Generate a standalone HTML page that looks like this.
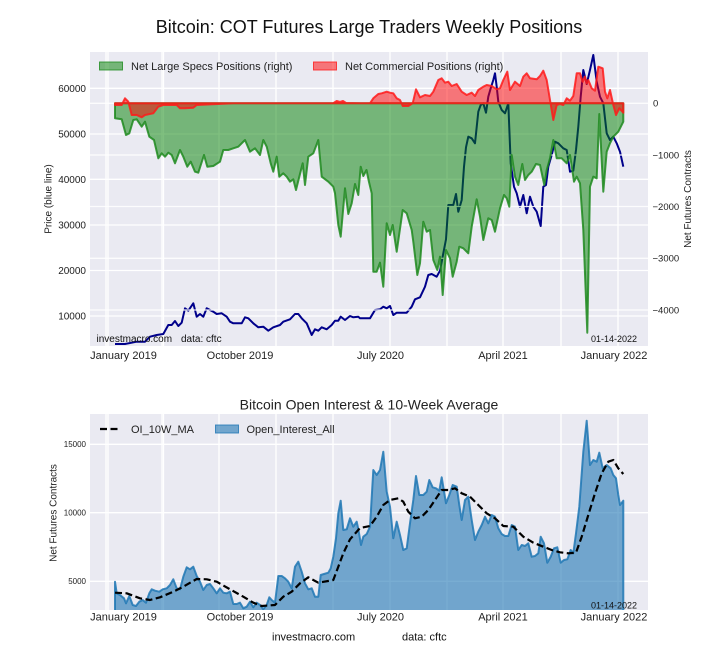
<!DOCTYPE html>
<html><head><meta charset="utf-8"><style>
html,body{margin:0;padding:0;background:#fff;}
svg{display:block;font-family:"Liberation Sans",Arial,sans-serif;}
</style></head><body>
<svg width="720" height="660" viewBox="0 0 720 660" xmlns="http://www.w3.org/2000/svg">
<defs>
<clipPath id="c1"><rect x="90" y="52" width="558" height="294"/></clipPath>
<clipPath id="c2"><rect x="90" y="414" width="558" height="196"/></clipPath>
</defs>
<rect width="720" height="660" fill="#fff"/>
<text x="369" y="33" font-size="18" text-anchor="middle" fill="#111">Bitcoin: COT Futures Large Traders Weekly Positions</text>

<!-- TOP CHART -->
<rect x="90" y="52" width="558" height="294" fill="#eaeaf2"/>
<g stroke="#fff" stroke-width="1.3">
<line x1="106" y1="52" x2="106" y2="346"/><line x1="108" y1="52" x2="108" y2="346"/>
<line x1="162" y1="52" x2="162" y2="346"/><line x1="163.5" y1="52" x2="163.5" y2="346"/>
<line x1="219" y1="52" x2="219" y2="346"/><line x1="276" y1="52" x2="276" y2="346"/>
<line x1="333" y1="52" x2="333" y2="346"/><line x1="390" y1="52" x2="390" y2="346"/>
<line x1="447" y1="52" x2="447" y2="346"/><line x1="503" y1="52" x2="503" y2="346"/>
<line x1="561" y1="52" x2="561" y2="346"/><line x1="618" y1="52" x2="618" y2="346"/>
<line x1="90" y1="88.3" x2="648" y2="88.3"/><line x1="90" y1="134" x2="648" y2="134"/>
<line x1="90" y1="179.3" x2="648" y2="179.3"/><line x1="90" y1="225" x2="648" y2="225"/>
<line x1="90" y1="270.5" x2="648" y2="270.5"/><line x1="90" y1="316" x2="648" y2="316"/>
</g>
<g clip-path="url(#c1)">
<polyline fill="none" stroke="#00008b" stroke-width="2" stroke-linejoin="round" points="115,344 125,344 136.7,341.7 145,341.7 150,336.7 156.7,335 163.3,334 168.3,325 171.7,325 175,321 178.3,326 181.7,322.7 185,308.3 188.3,310.7 193.3,303.3 196.7,316.7 200,314 203.3,316.7 206.7,308.3 213.3,311.7 216.7,314 221.7,313.3 226.7,316.7 230,321.7 233.3,323.3 241.7,323.3 245,317.3 248.3,318.3 253.3,323.3 258.3,327.3 263.3,326.7 268.3,330.7 273.3,327.3 280,325 283.3,321.7 290,319.3 295,314 298.3,314 301.7,318.3 306.7,323.3 311.7,335 315,329.3 318.3,330.7 321.7,327.3 326.7,329.3 331.7,325 335,320.7 338.3,320.7 340.7,316.7 345,320 350,316 353.3,317.3 358.3,316.7 360,318.3 370,318.3 375,310 380,309.3 383.3,306.7 386.7,308.3 390,306 393.3,315 396.7,312.7 406.7,312.7 411.7,306.7 415,299.3 420,297.3 425,286.7 428.3,275 431.7,274 436.7,276.7 440,270.7 443.3,253.3 446,239.3 448.3,205 453.3,205 456,194 458.3,211.7 461.7,200 464,166.7 466,147.3 468.3,136.7 471.7,138.3 475,143.3 478.3,111.7 480.7,105 483.3,103.3 486,112.7 488.3,96.7 490.7,88.3 493.3,80 495,73.3 496.7,86.7 498.3,101.7 501.7,110 505,113.3 508.3,103.3 510.7,163.3 514,186.7 516.7,193.3 520,206.7 523.3,195 526.7,213.3 530,196.7 533.3,206.7 536.7,211.7 540.7,226 543.3,186.7 546,185 548.3,166.7 551.7,155 555,141.7 558.3,143.3 563.3,148.3 566.7,150 570,171.7 573.3,170.7 576,150 578.3,126.7 580.7,96.7 583.3,70 586.7,84 590,70 593.3,55 596.7,81.7 600,96.7 603.3,103.3 606.7,133.3 610,140 613.3,136.7 616.7,143.3 620,151.7 623.3,166.7"/>
<g stroke="#fff" stroke-width="1.3" opacity="0.9">
<line x1="90" y1="103.3" x2="648" y2="103.3"/><line x1="90" y1="155" x2="648" y2="155"/>
<line x1="90" y1="206.5" x2="648" y2="206.5"/><line x1="90" y1="258.3" x2="648" y2="258.3"/>
<line x1="90" y1="310" x2="648" y2="310"/>
</g>
<polygon fill="#008000" fill-opacity="0.5" stroke="#1e8a1e" stroke-opacity="0.85" stroke-width="2" stroke-linejoin="round" points="115,103.3 115,118.3 121.7,119.3 126,135 129.3,133.3 133.3,120 136.7,119.3 141.7,126.7 145,121.7 149.3,136.7 154,140 158.3,158.3 161.7,153.3 165,156.7 168.3,152.7 171.7,155 175,163.3 180,150 183.3,156.7 187.3,166.7 190.7,161.7 195,171.7 198.3,172.7 204,155 207.3,166.7 213.3,166 220,161.7 223.3,150 228.3,150 233.3,148.3 238.3,146.7 245,140 250,151.7 255,148.3 260,155 263.3,140 266.7,146.7 270.7,163.3 273.3,171.7 276.7,156.7 279.3,176.7 283.3,173.3 286.7,176.7 290,181.7 293.3,179.3 296,190 299.3,176.7 302.7,163.3 305,185 308.3,156.7 313.3,153.3 318.3,140 321.7,176.7 328.3,181.7 333.3,186.7 335,193.3 338.3,225 340.7,236.7 345,188.3 348.3,214 351.7,203.3 355,184 358.3,195 360.7,166.7 363.3,176 366.5,170 369,182 371.7,193.3 373.3,271.7 376.7,271.7 380,262.7 383.3,286.7 386.7,223.3 390,235 392.7,225 396.7,251.7 402.7,210 406.7,213.3 411.7,230 413.3,241.7 417.3,275 420,263.3 423.3,221.7 426.7,231.7 430,230 433.3,260 437.3,270 440,256.7 442.7,295 446,250 450,258.3 452.7,276.7 456.7,261.7 459.3,246.7 463.3,248.3 468.3,253.3 471.7,226.7 476.7,199.3 480,216.7 483.3,240 488.3,218.3 491.7,220 495,231.7 500,208.3 504,195 506.7,198.3 509.3,206.7 511.7,155 515,176.7 518.3,185 522.3,164 525,180 528.3,175 531.7,171.7 536,164 540,165 544.3,185 546.7,170 550,158.3 553.3,140 556.7,158.3 561.7,158.3 566.7,163.3 570,155 574,181.7 576.7,176.7 580,183.3 583.3,230 587.3,332.7 590,186.7 593.3,176.7 596.7,178.3 599.3,114 603.3,191.7 606.7,151.7 610,143.3 613.3,136.7 616.7,133.3 618.3,131.7 623.3,121.7 623.3,103.3"/>
<polygon fill="#ff0000" fill-opacity="0.5" stroke="#ff1a1a" stroke-opacity="0.85" stroke-width="2" stroke-linejoin="round" points="115,103.3 115,105 121.7,105 125,98.3 128.3,101.7 131.7,115 136.7,115 141.7,117.3 145,115 153.3,113.3 158.3,106.7 163.3,105 176.7,105 180,108.3 185,108.3 193.3,107.7 196.7,105 233.3,103.3 333,103.3 336.7,101 340,102 343,101 346,103 360,103.3 370,103.3 373.3,98.3 378.3,94 381.7,93.3 386.7,91.7 390,92.7 393.3,93.3 396.7,98.3 400,100 402.7,106 408.3,106 412.7,103.3 416,89.3 420,97.3 425,95 430,96 433.3,91.7 438.3,80 441.7,78.3 445,82.7 448.3,81.7 451.7,86 456.7,84 461.7,91.7 466.7,95 471.7,92.7 475,96 478.3,90 483.3,86.7 486.7,85 491.7,86 496.7,89.3 500,88.3 503.3,80 507.3,71.7 510,90 515,81.7 520,86 523.3,76.7 526.7,73.3 530,78.3 536.7,79.3 540,76 543.3,70.7 546.7,80 550,100 553.3,120 556.7,105 560,104 563.3,105 566.7,98.3 570,100.7 573.3,96 576.7,73.3 580,73.3 582.7,81.7 585,76.7 586.7,83.3 588.3,80 591.7,88.3 595,90.7 598.3,66.7 602.7,68.3 605,91.7 607.3,98.3 610,90 613.3,105 616,115 619.3,108.3 623.3,112.7 623.3,103.3"/>
</g>
<!-- top legend -->
<rect x="99.5" y="62" width="23" height="8" fill="#008000" fill-opacity="0.5" stroke="#1e8a1e" stroke-opacity="0.8" stroke-width="1"/>
<text x="131" y="70" font-size="11" fill="#222">Net Large Specs Positions (right)</text>
<rect x="313.5" y="62" width="23" height="8" fill="#ff0000" fill-opacity="0.5" stroke="#ff1a1a" stroke-opacity="0.8" stroke-width="1"/>
<text x="345" y="70" font-size="11" fill="#222">Net Commercial Positions (right)</text>
<text x="96.5" y="342" font-size="10" fill="#111">investmacro.com</text>
<text x="181" y="342" font-size="10" fill="#111">data: cftc</text>
<text x="637" y="342" font-size="9" text-anchor="end" fill="#111">01-14-2022</text>
<!-- top left ticks -->
<g font-size="10" fill="#222" text-anchor="end">
<text x="86" y="91.8">60000</text><text x="86" y="137.5">50000</text><text x="86" y="182.8">40000</text>
<text x="86" y="228.5">30000</text><text x="86" y="274">20000</text><text x="86" y="319.5">10000</text>
</g>
<g font-size="9.5" fill="#222">
<text x="653" y="106.6">0</text><text x="652.5" y="158.3">−1000</text><text x="652.5" y="209.8">−2000</text>
<text x="652.5" y="261.6">−3000</text><text x="652.5" y="313.3">−4000</text>
</g>
<text transform="translate(51.5,199) rotate(-90)" font-size="10" text-anchor="middle" fill="#222">Price (blue line)</text>
<text transform="translate(691,199) rotate(-90)" font-size="10" text-anchor="middle" fill="#222">Net Futures Contracts</text>
<g font-size="11" fill="#222" text-anchor="middle">
<text x="123.5" y="359">January 2019</text><text x="240" y="359">October 2019</text>
<text x="380.5" y="359">July 2020</text><text x="503" y="359">April 2021</text>
<text x="614" y="359">January 2022</text>
</g>

<!-- BOTTOM CHART -->
<text x="369" y="409.5" font-size="14" text-anchor="middle" fill="#222">Bitcoin Open Interest &amp; 10-Week Average</text>
<rect x="90" y="414" width="558" height="196" fill="#eaeaf2"/>
<g stroke="#fff" stroke-width="1.3">
<line x1="106" y1="414" x2="106" y2="610"/><line x1="108" y1="414" x2="108" y2="610"/>
<line x1="162" y1="414" x2="162" y2="610"/><line x1="163.5" y1="414" x2="163.5" y2="610"/>
<line x1="219" y1="414" x2="219" y2="610"/><line x1="276" y1="414" x2="276" y2="610"/>
<line x1="333" y1="414" x2="333" y2="610"/><line x1="390" y1="414" x2="390" y2="610"/>
<line x1="447" y1="414" x2="447" y2="610"/><line x1="503" y1="414" x2="503" y2="610"/>
<line x1="561" y1="414" x2="561" y2="610"/><line x1="618" y1="414" x2="618" y2="610"/>
<line x1="90" y1="444.3" x2="648" y2="444.3"/><line x1="90" y1="512.7" x2="648" y2="512.7"/>
<line x1="90" y1="581.3" x2="648" y2="581.3"/>
</g>
<g clip-path="url(#c2)">
<polygon fill="#1f77b4" fill-opacity="0.6" stroke="none" points="115,611 115,581.7 116.7,593.3 120,595 124,598.3 126,603.3 129.3,596 132.7,605 136,606 139.3,601.7 142.7,600 146,602.7 149.3,593.3 151.7,589.3 155,590.7 159.3,591.7 162.7,589.3 166.7,588.3 170,585 173.3,579.3 176.7,588.3 180,589.3 183.3,576.7 186.7,567.3 190,569.3 193.3,566.7 196.7,576 200,581.7 203.3,590 206.7,585 210,584 213.3,588.3 216.7,593.3 220,588.3 223.3,592.7 226.7,593.3 230,591.7 233.3,604 236.7,604 240,602.7 243.3,608.3 246.7,606.7 250,601.7 253.3,607.3 256.7,602.7 260,605 263.3,609.3 266.7,605 269.3,597.3 271.7,600 275,602.7 278.3,576 281.7,576 285,578.3 288.3,581.7 291.7,588.3 295,566.7 298.3,561.7 301.7,571.7 305,583.3 308.3,589.3 311.7,588.3 315,596.7 318.3,596.7 320.7,575 324,574 328.3,572.7 330.7,568.3 333.3,556.7 336,538.3 338.3,513.3 340.7,500.7 343.3,530 346.7,529.3 350,518.3 353.3,526.7 356.7,521.7 358.5,530 361,545 363.3,536.7 366.7,534 370,526.7 373.3,470 376.7,475 380,470 383.3,451.7 386.7,491.7 390,506.7 393.3,538.3 396.7,521.7 400,535 403.3,550 406.7,548.3 410,523.3 413.3,500 416,476 419.3,495 423.3,495 426.7,491.7 429.3,480 432.7,487.3 436,488.3 439.3,490.7 441.7,477.3 446,503.3 449.3,495 452.7,485 456.7,486.7 459.3,505 461.7,520 465,500 468.3,496.7 471.7,520 475,540 478.3,531.7 481.7,525 485,516.7 488.3,523.3 491.7,515 495,516.7 498.3,528.3 501.7,534 505,536 508.3,536 511.7,525 515,526.7 518.3,550 521.7,545 525,546 528.3,543.3 531.7,556.7 535,556 538.3,553.3 540.7,536.7 544,543.3 547.3,562.7 550.7,556.7 554,548.3 557.3,547.3 560.7,562.7 564,560 567.3,559.3 570.7,550 573.3,553.3 576,533.3 579.3,506.7 583.3,451.7 586.7,420.7 590,465 593.3,460 596.7,461.7 599.3,452.7 602.7,468.3 606.7,465 610.7,468.3 613.3,475 616,478.3 618.3,495 620,505 623.3,500.7 623.3,611"/>
<polyline fill="none" stroke="#1f77b4" stroke-opacity="0.85" stroke-width="2" stroke-linejoin="round" points="115,611 115,581.7 116.7,593.3 120,595 124,598.3 126,603.3 129.3,596 132.7,605 136,606 139.3,601.7 142.7,600 146,602.7 149.3,593.3 151.7,589.3 155,590.7 159.3,591.7 162.7,589.3 166.7,588.3 170,585 173.3,579.3 176.7,588.3 180,589.3 183.3,576.7 186.7,567.3 190,569.3 193.3,566.7 196.7,576 200,581.7 203.3,590 206.7,585 210,584 213.3,588.3 216.7,593.3 220,588.3 223.3,592.7 226.7,593.3 230,591.7 233.3,604 236.7,604 240,602.7 243.3,608.3 246.7,606.7 250,601.7 253.3,607.3 256.7,602.7 260,605 263.3,609.3 266.7,605 269.3,597.3 271.7,600 275,602.7 278.3,576 281.7,576 285,578.3 288.3,581.7 291.7,588.3 295,566.7 298.3,561.7 301.7,571.7 305,583.3 308.3,589.3 311.7,588.3 315,596.7 318.3,596.7 320.7,575 324,574 328.3,572.7 330.7,568.3 333.3,556.7 336,538.3 338.3,513.3 340.7,500.7 343.3,530 346.7,529.3 350,518.3 353.3,526.7 356.7,521.7 358.5,530 361,545 363.3,536.7 366.7,534 370,526.7 373.3,470 376.7,475 380,470 383.3,451.7 386.7,491.7 390,506.7 393.3,538.3 396.7,521.7 400,535 403.3,550 406.7,548.3 410,523.3 413.3,500 416,476 419.3,495 423.3,495 426.7,491.7 429.3,480 432.7,487.3 436,488.3 439.3,490.7 441.7,477.3 446,503.3 449.3,495 452.7,485 456.7,486.7 459.3,505 461.7,520 465,500 468.3,496.7 471.7,520 475,540 478.3,531.7 481.7,525 485,516.7 488.3,523.3 491.7,515 495,516.7 498.3,528.3 501.7,534 505,536 508.3,536 511.7,525 515,526.7 518.3,550 521.7,545 525,546 528.3,543.3 531.7,556.7 535,556 538.3,553.3 540.7,536.7 544,543.3 547.3,562.7 550.7,556.7 554,548.3 557.3,547.3 560.7,562.7 564,560 567.3,559.3 570.7,550 573.3,553.3 576,533.3 579.3,506.7 583.3,451.7 586.7,420.7 590,465 593.3,460 596.7,461.7 599.3,452.7 602.7,468.3 606.7,465 610.7,468.3 613.3,475 616,478.3 618.3,495 620,505 623.3,500.7 623.3,611"/>
<polyline fill="none" stroke="#000" stroke-width="2.2" stroke-dasharray="7,3.5" stroke-linejoin="round" points="115,592.7 126.7,593.3 140,598.3 150,600 160,597.3 173.3,591.7 183.3,586.7 196.7,579 206.7,579.3 216.7,581.7 230,589.3 243.3,596.7 253.3,602.7 261.7,606 275,605 283.3,596.7 291.7,591.7 300,583.3 308.3,577.3 318.3,582.7 330,580.7 333.3,580 338.3,566.7 343.3,553.3 350,539.3 360,528 370,526 376.7,516.7 383.3,505 390,500 398.3,498.3 403.3,501.7 408.3,511.7 415,518.3 421.7,516.7 428.3,510 435,500 441.7,490 448.3,490 455,488.3 461.7,493.3 470,496.7 478.3,505 486.7,513.3 495,518.3 503.3,526 513.3,526.7 523.3,536.7 533.3,542.7 543.3,546.7 551.7,550 560,552.3 568.3,553.3 576,552.7 581.7,536.7 588.3,515 595,493.3 601.7,473.3 608.3,461.7 613.3,460 618.3,468.3 623.3,474"/>
</g>
<!-- bottom legend -->
<line x1="100" y1="429" x2="121" y2="429" stroke="#000" stroke-width="2.2" stroke-dasharray="7,3.5"/>
<text x="131" y="433" font-size="11" fill="#222">OI_10W_MA</text>
<rect x="215.5" y="425" width="23" height="8" fill="#1f77b4" fill-opacity="0.6" stroke="#1f77b4" stroke-opacity="0.8" stroke-width="1"/>
<text x="246.5" y="433" font-size="11" fill="#222">Open_Interest_All</text>
<text x="637" y="608.5" font-size="9" text-anchor="end" fill="#111">01-14-2022</text>
<g font-size="8" fill="#222" text-anchor="end">
<text x="86" y="447.2">15000</text><text x="86" y="515.6">10000</text><text x="86" y="584.2">5000</text>
</g>
<text transform="translate(56.5,513) rotate(-90)" font-size="10" text-anchor="middle" fill="#222">Net Futures Contracts</text>
<g font-size="11" fill="#222" text-anchor="middle">
<text x="123.5" y="620.5">January 2019</text><text x="240" y="620.5">October 2019</text>
<text x="380.5" y="620.5">July 2020</text><text x="503" y="620.5">April 2021</text>
<text x="614" y="620.5">January 2022</text>
</g>
<text x="272" y="640.5" font-size="11" fill="#111">investmacro.com</text>
<text x="402" y="640.5" font-size="11" fill="#111">data: cftc</text>
</svg>
</body></html>
